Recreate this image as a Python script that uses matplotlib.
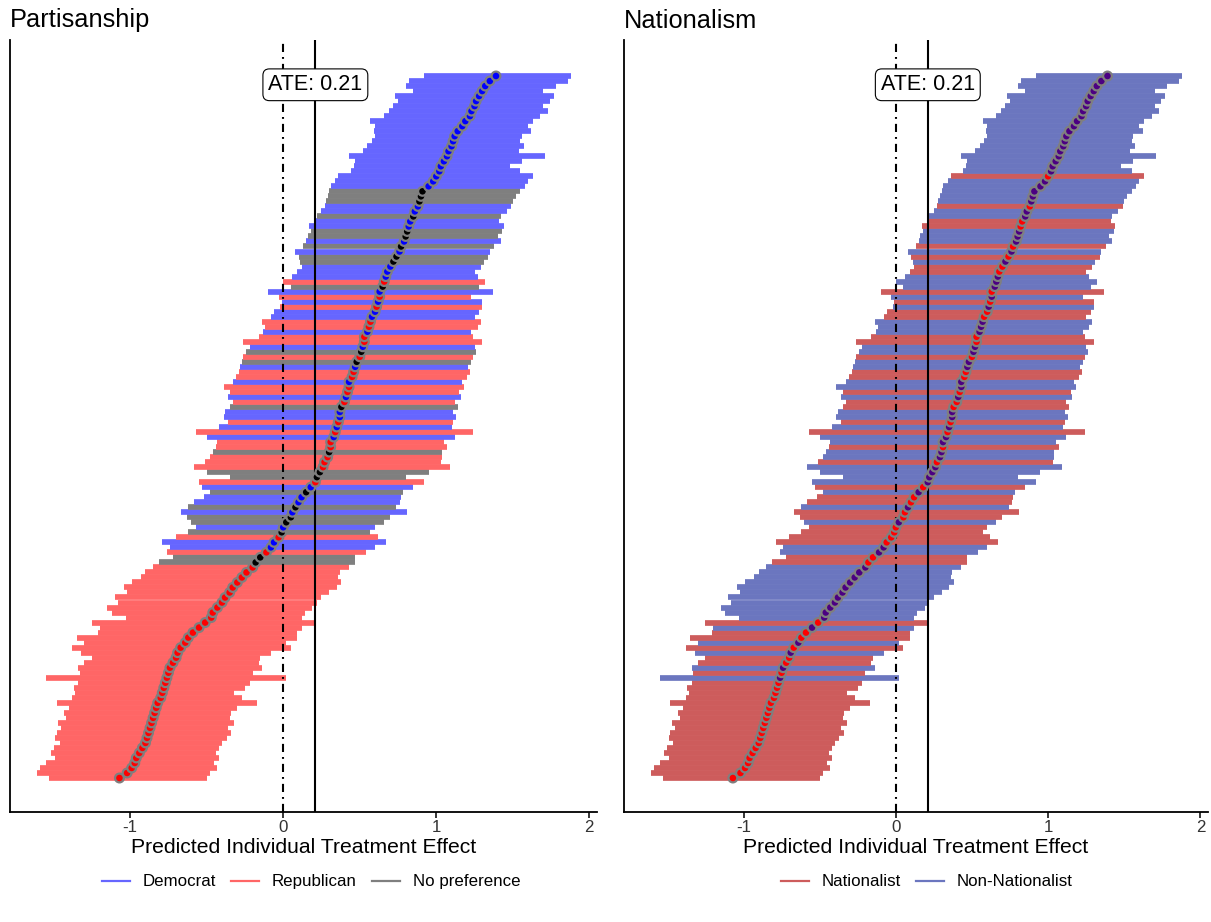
import numpy as np
import matplotlib.pyplot as plt
from matplotlib.lines import Line2D
from matplotlib.transforms import blended_transform_factory

plt.rcParams['font.family'] = ['Liberation Sans', 'DejaVu Sans']
plt.rcParams['axes.unicode_minus'] = False

ate = 0.21

# predicted effect per respondent, sorted from lowest (bottom) to highest (top)
est = [-1.07, -1.02, -0.99, -0.97, -0.96, -0.94, -0.92, -0.90, -0.89, -0.88,
       -0.87, -0.86, -0.85, -0.84, -0.83, -0.82, -0.80, -0.79, -0.78, -0.77,
       -0.76, -0.75, -0.74, -0.72, -0.70, -0.69, -0.67, -0.64, -0.62, -0.59,
       -0.55, -0.51, -0.47, -0.46, -0.43, -0.40, -0.38, -0.35, -0.33, -0.30,
       -0.27, -0.24, -0.20, -0.18, -0.15, -0.11, -0.08, -0.06, -0.03, -0.01,
       0.00, 0.02, 0.05, 0.06, 0.08, 0.10, 0.12, 0.15, 0.18, 0.21,
       0.22, 0.24, 0.26, 0.27, 0.29, 0.30, 0.31, 0.31, 0.33, 0.34,
       0.35, 0.36, 0.37, 0.37, 0.38, 0.40, 0.41, 0.42, 0.43, 0.43,
       0.45, 0.46, 0.47, 0.48, 0.50, 0.51, 0.52, 0.53, 0.53, 0.55,
       0.56, 0.57, 0.58, 0.60, 0.61, 0.62, 0.63, 0.63, 0.65, 0.66,
       0.67, 0.68, 0.70, 0.72, 0.74, 0.76, 0.77, 0.79, 0.80, 0.81,
       0.82, 0.83, 0.85, 0.86, 0.88, 0.89, 0.90, 0.91, 0.95, 0.98,
       1.00, 1.02, 1.03, 1.05, 1.07, 1.08, 1.10, 1.11, 1.12, 1.14,
       1.17, 1.19, 1.22, 1.23, 1.25, 1.26, 1.28, 1.30, 1.32, 1.35, 1.39]

lo = [-1.53, -1.61, -1.59, -1.55, -1.49, -1.52, -1.50, -1.46, -1.49, -1.48,
      -1.45, -1.47, -1.42, -1.43, -1.40, -1.48, -1.38, -1.36, -1.37, -1.34,
      -1.55, -1.33, -1.34, -1.30, -1.25, -1.32, -1.38, -1.30, -1.35, -1.21,
      -1.20, -1.25, -1.03, -1.12, -1.15, -1.08, -1.10, -1.02, -1.04, -0.99,
      -0.93, -0.90, -0.85, -0.81, -0.72, -0.76, -0.74, -0.79, -0.70, -0.62,
      -0.57, -0.60, -0.63, -0.67, -0.62, -0.58, -0.52, -0.48, -0.53, -0.55,
      -0.35, -0.50, -0.58, -0.51, -0.48, -0.46, -0.44, -0.43, -0.50, -0.57,
      -0.42, -0.36, -0.39, -0.38, -0.35, -0.33, -0.36, -0.35, -0.39, -0.33,
      -0.31, -0.29, -0.28, -0.27, -0.26, -0.24, -0.22, -0.26, -0.16, -0.13,
      -0.12, -0.14, -0.08, -0.06, -0.02, -0.01, -0.03, -0.10, 0.05, 0.00,
      0.06, 0.09, 0.12, 0.11, 0.10, 0.08, 0.13, 0.15, 0.16, 0.18,
      0.17, 0.21, 0.22, 0.25, 0.27, 0.28, 0.29, 0.30, 0.31, 0.34,
      0.36, 0.44, 0.46, 0.47, 0.43, 0.52, 0.55, 0.58, 0.60, 0.59,
      0.60, 0.57, 0.66, 0.69, 0.72, 0.75, 0.73, 0.85, 0.80, 0.82, 0.92]

hi = [-0.50, -0.48, -0.43, -0.45, -0.42, -0.44, -0.42, -0.40, -0.37, -0.34,
      -0.36, -0.32, -0.35, -0.34, -0.30, -0.17, -0.27, -0.32, -0.25, -0.22,
      0.02, -0.20, -0.14, -0.16, -0.15, -0.08, 0.05, 0.02, 0.09, 0.09,
      0.12, 0.21, 0.12, 0.14, 0.19, 0.22, 0.25, 0.30, 0.35, 0.38,
      0.36, 0.37, 0.43, 0.47, 0.47, 0.54, 0.60, 0.67, 0.62, 0.57,
      0.60, 0.66, 0.70, 0.81, 0.74, 0.76, 0.77, 0.78, 0.85, 0.92,
      0.80, 0.95, 1.09, 1.03, 1.04, 1.04, 1.07, 1.05, 1.12, 1.24,
      1.10, 1.11, 1.13, 1.11, 1.14, 1.12, 1.16, 1.15, 1.18, 1.17,
      1.20, 1.22, 1.21, 1.23, 1.24, 1.26, 1.25, 1.30, 1.24, 1.23,
      1.27, 1.29, 1.25, 1.28, 1.30, 1.30, 1.23, 1.37, 1.28, 1.32,
      1.27, 1.25, 1.29, 1.31, 1.34, 1.35, 1.38, 1.42, 1.40, 1.43,
      1.44, 1.41, 1.42, 1.46, 1.49, 1.50, 1.52, 1.55, 1.58, 1.60,
      1.63, 1.55, 1.48, 1.56, 1.71, 1.54, 1.57, 1.55, 1.56, 1.62,
      1.60, 1.63, 1.68, 1.73, 1.70, 1.74, 1.77, 1.70, 1.78, 1.86, 1.88]

# D = Democrat, R = Republican, N = No preference (same row order as est)
party = list("RRRRRRRRRRRRRRRRRRRRRRRRRRRRRRRRRRRRRRRRRRR"
             "NNRDD" "RNDNNDNDD" "NDRNNR"
             "RRNRRDRDRD" "DNRDRRDRRD" "NRNDRRDRRD" "DRD"
             "RDNRDDDNND" "NDNNDDNDDN" "NND"
             "DDDDDDDDDDDDDDDDDDDDDD")

# A = Nationalist, B = Non-Nationalist
nation = list("AAAAAAAAAAAAAAAAAAAA"
              "BABAABABAA" "BAB" "BBBBBBBBBB"
              "AABBAAAABA" "ABAABABBBB" "ABBABBABAB" "BAABABBAAB"
              "BABBAABBBA" "ABABABBBAA" "BABABBBAAB" "BABBBBBA"
              "BBBBBBBBBBBBBBBBBBBB")

party_names = {'D': 'Democrat', 'R': 'Republican', 'N': 'No preference'}
party_bar = {'D': '#6666FF', 'R': '#FF6666', 'N': '#7F7F7F'}
party_dot = {'D': '#0000FF', 'R': '#FF0000', 'N': '#000000'}

nation_names = {'A': 'Nationalist', 'B': 'Non-Nationalist'}
nation_bar = {'A': '#CD5C5C', 'B': '#6B76BF'}
nation_dot = {'A': '#FF0000', 'B': '#4B0082'}


def draw_panel(ax, groups, bar_cols, dot_cols, title):
    rows = np.arange(len(est))
    ax.hlines(rows, lo, hi, colors=[bar_cols[g] for g in groups], linewidth=4.1, zorder=1)
    ax.axvline(0, color='black', lw=1.5, ls=(0, (3.9, 2.4, 0.9, 2.4)), zorder=2)
    ax.axvline(ate, color='black', lw=1.5, zorder=2)
    ax.scatter(est, rows, s=40, c=[dot_cols[g] for g in groups],
               edgecolors='#7F7F7F', linewidths=1.6, zorder=3)
    tr = blended_transform_factory(ax.transData, ax.transAxes)
    ax.text(ate, 0.942, 'ATE: ' + str(ate), transform=tr, ha='center', va='center',
            fontsize=15.5, zorder=4,
            bbox=dict(boxstyle='round,pad=0.25,rounding_size=0.3', fc='white', ec='black', lw=0.8))
    ax.set_xlim(-1.785, 2.05)
    ax.set_ylim(-6.78, 147.18)
    ax.set_xticks([-1, 0, 1, 2])
    ax.set_yticks([])
    ax.tick_params(axis='x', labelsize=12.2, labelcolor='#333333', length=4, width=1.1, pad=2)
    for s in ['top', 'right']:
        ax.spines[s].set_visible(False)
    for s in ['left', 'bottom']:
        ax.spines[s].set_linewidth(1.3)
    ax.set_xlabel('Predicted Individual Treatment Effect', fontsize=15.2, labelpad=2)
    ax.set_title(title, loc='left', fontsize=18.3, pad=9)


fig = plt.figure(figsize=(12.11, 9.22), dpi=100)
ax1 = fig.add_axes([10 / 1211, 110 / 922, 587 / 1211, 772 / 922])
ax2 = fig.add_axes([624 / 1211, 110 / 922, 584 / 1211, 772 / 922])

draw_panel(ax1, party, party_bar, party_dot, 'Partisanship')
draw_panel(ax2, nation, nation_bar, nation_dot, 'Nationalism')

h1 = [Line2D([], [], color=party_bar[k], lw=1.6) for k in ['D', 'R', 'N']]
fig.legend(h1, [party_names[k] for k in ['D', 'R', 'N']], loc='center',
           bbox_to_anchor=(0.257, 0.0434), ncol=3, frameon=False, fontsize=12.2,
           handlelength=1.65, handletextpad=0.75, columnspacing=0.9)
h2 = [Line2D([], [], color=nation_bar[k], lw=1.6) for k in ['A', 'B']]
fig.legend(h2, [nation_names[k] for k in ['A', 'B']], loc='center',
           bbox_to_anchor=(0.765, 0.0434), ncol=2, frameon=False, fontsize=12.2,
           handlelength=1.65, handletextpad=0.75, columnspacing=0.9)

fig.savefig('out.png', dpi=100)
